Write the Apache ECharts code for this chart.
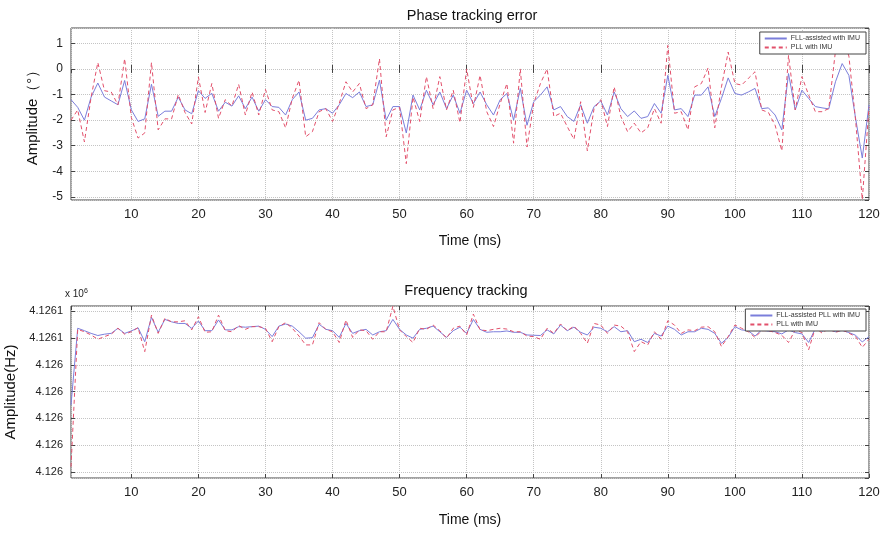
<!DOCTYPE html>
<html>
<head>
<meta charset="utf-8">
<title>Phase / frequency tracking</title>
<script src="https://cdn.jsdelivr.net/npm/echarts@6/dist/echarts.min.js"></script>
<style>
  html, body { margin: 0; padding: 0; background: #fff; }
  #chart { width: 884px; height: 533px; }
</style>
</head>
<body>
<div id="chart"></div>
<script>
// time axis (ms)
const timeMs = [1,2,3,4,5,6,7,8,9,10,11,12,13,14,15,16,17,18,19,20,21,22,23,24,25,26,27,28,29,30,
  31,32,33,34,35,36,37,38,39,40,41,42,43,44,45,46,47,48,49,50,51,52,53,54,55,56,57,58,59,60,
  61,62,63,64,65,66,67,68,69,70,71,72,73,74,75,76,77,78,79,80,81,82,83,84,85,86,87,88,89,90,
  91,92,93,94,95,96,97,98,99,100,101,102,103,104,105,106,107,108,109,110,111,112,113,114,115,116,117,118,119,120]

// phase tracking error (deg)
const phaseFll = [-1.2,-1.5,-2.0,-1.1,-0.55,-1.1,-1.25,-1.4,-0.45,-1.6,-2.05,-1.95,-0.6,-1.85,-1.65,-1.65,-1.1,-1.6,-1.75,-0.85,
  -1.15,-0.95,-1.65,-1.3,-1.45,-1.05,-1.55,-1.1,-1.65,-1.2,-1.47,-1.5,-1.8,-1.2,-0.9,-2.0,-1.93,-1.6,-1.55,-1.73,
  -1.4,-0.96,-1.12,-0.9,-1.47,-1.4,-0.44,-2.0,-1.47,-1.47,-2.5,-1.02,-1.6,-0.83,-1.4,-0.9,-1.55,-1.02,-1.73,-0.83,
  -1.35,-0.9,-1.4,-1.8,-1.2,-0.96,-2.0,-0.76,-2.2,-1.28,-1.02,-0.7,-1.6,-1.47,-1.86,-2.05,-1.4,-2.12,-1.47,-1.25,
  -1.8,-0.9,-1.55,-1.86,-1.64,-1.93,-1.86,-1.35,-1.73,-0.25,-1.6,-1.55,-1.86,-1.02,-1.02,-0.7,-1.86,-1.15,-0.35,-0.96,
  -1.02,-0.9,-0.76,-1.55,-1.52,-1.8,-2.38,-0.18,-1.6,-0.83,-1.15,-1.47,-1.52,-1.56,-0.5,0.21,-0.25,-1.93,-3.48,-1.4]
const phasePll = [-2.0,-1.6,-2.85,-1.1,0.25,-0.85,-0.9,-1.4,0.4,-1.9,-2.7,-2.5,0.25,-2.38,-1.95,-1.95,-1.0,-1.7,-2.15,-0.31,
  -1.7,-0.57,-1.93,-1.2,-1.45,-0.6,-1.8,-0.9,-1.8,-0.8,-1.6,-1.67,-2.3,-1.15,-0.44,-2.65,-2.45,-1.67,-1.55,-2.05,
  -1.35,-0.5,-0.9,-0.57,-1.55,-1.4,0.4,-2.65,-1.6,-1.5,-3.7,-1.1,-2.05,-0.3,-1.55,-0.3,-1.6,-0.83,-2.1,0.0,
  -1.5,-0.25,-1.67,-2.25,-1.35,-0.57,-2.9,0.0,-3.05,-1.35,-0.57,0.0,-1.86,-1.73,-2.25,-2.75,-1.28,-3.2,-1.55,-1.2,
  -2.25,-0.7,-1.86,-2.45,-2.12,-2.5,-2.3,-1.55,-2.12,0.92,-1.73,-1.67,-2.38,-0.7,-0.57,0.04,-2.3,-0.7,0.66,-0.57,
  -0.63,-0.37,-0.11,-1.6,-1.7,-2.2,-3.2,0.53,-1.6,-0.3,-1.02,-1.67,-1.67,-1.55,0.7,1.3,0.5,-2.0,-5.1,-1.5]

// frequency tracking (Hz)
const freqFll = [4126025,4126053.6,4126052.7,4126051.7,4126050.9,4126051.4,4126051.7,4126053.6,4126051.7,4126052.6,
  4126053.8,4126048.6,4126057.7,4126052.1,4126056.9,4126056.0,4126055.4,4126055.4,4126053.6,4126056.3,
  4126052.7,4126052.7,4126056.7,4126053.0,4126053.0,4126054.2,4126054.0,4126054.2,4126054.4,4126053.2,
  4126050.5,4126054.4,4126055.2,4126054.4,4126052.3,4126049.9,4126050.1,4126055.1,4126053.2,4126052.7,
  4126050.2,4126055.4,4126051.7,4126052.7,4126053.2,4126051.1,4126052.3,4126052.7,4126056.9,4126053.2,
  4126051.1,4126049.9,4126053.2,4126053.6,4126054.4,4126052.3,4126050.2,4126052.7,4126054.0,4126051.7,
  4126056.9,4126053.2,4126052.1,4126052.3,4126052.3,4126052.6,4126052.1,4126052.1,4126051.1,4126051.0,
  4126050.9,4126053.0,4126051.5,4126054.8,4126052.7,4126054.0,4126052.1,4126051.1,4126054.0,4126053.6,
  4126052.3,4126054.2,4126052.3,4126052.7,4126048.6,4126049.5,4126048.3,4126051.7,4126050.7,4126054.4,
  4126053.2,4126051.1,4126052.3,4126052.3,4126053.6,4126053.2,4126051.7,4126048.0,4126050.2,4126054.2,
  4126053.0,4126052.7,4126050.7,4126053.0,4126052.5,4126052.3,4126051.5,4126053.0,4126052.0,4126051.5,
  4126048.3,4126053.5,4126052.5,4126053.2,4126052.3,4126052.8,4126052.0,4126051.0,4126048.5,4126050.5]
const freqPll = [4126002,4126053.2,4126052.3,4126051.1,4126049.5,4126050.5,4126051.4,4126053.6,4126051.4,4126052.3,
  4126053.8,4126044.9,4126058.5,4126051.7,4126057.3,4126056.0,4126056.0,4126056.4,4126053.0,4126057.9,
  4126052.1,4126052.3,4126058.5,4126052.7,4126052.3,4126054.6,4126053.2,4126054.2,4126054.2,4126053.6,
  4126048.6,4126054.2,4126055.7,4126053.6,4126050.7,4126047.4,4126047.4,4126055.7,4126053.2,4126052.3,
  4126048.3,4126056.7,4126050.2,4126053.0,4126052.7,4126049.5,4126052.3,4126052.3,4126061.8,4126053.0,
  4126050.5,4126048.3,4126053.6,4126053.2,4126054.8,4126052.7,4126049.9,4126053.6,4126054.4,4126051.1,
  4126058.9,4126053.0,4126052.7,4126053.2,4126053.6,4126053.3,4126052.3,4126052.3,4126050.7,4126050.5,
  4126049.5,4126053.6,4126051.7,4126055.2,4126052.7,4126054.4,4126051.7,4126048.0,4126055.4,4126054.8,
  4126051.7,4126054.8,4126054.4,4126052.3,4126044.9,4126048.6,4126047.4,4126052.3,4126049.5,4126056.4,
  4126054.8,4126051.7,4126053.0,4126052.7,4126054.0,4126054.2,4126052.3,4126046.8,4126050.5,4126054.8,
  4126053.6,4126052.3,4126050.2,4126052.7,4126052.7,4126052.0,4126051.0,4126048.3,4126053.0,4126052.0,
  4126045.6,4126053.8,4126051.8,4126053.5,4126052.0,4126053.0,4126051.8,4126050.5,4126046.5,4126049.5]

// y tick labels of the frequency plot (MATLAB rounding, x 10^6)
const freqTicks = [4126000, 4126010, 4126020, 4126030, 4126040, 4126050, 4126060]
const freqTickLabels = ['4.126', '4.126', '4.126', '4.126', '4.126', '4.1261', '4.1261']

const FONT = 'Liberation Sans'
const BLUE = '#7b7edb'
const RED = '#e2506b'

const chart = echarts.init(document.getElementById('chart'))

function pairs(xs, ys) {
  return xs.map((x, i) => [x, ys[i]])
}

function timeAxis(gridIndex, name) {
  return {
    type: 'value',
    gridIndex: gridIndex,
    min: 1,
    max: 120,
    splitNumber: 12,
    name: name,
    nameLocation: 'middle',
    nameGap: 34,
    nameTextStyle: { fontFamily: FONT, fontSize: 14, color: '#111' },
    axisLine: { show: false },
    axisTick: { inside: true, length: 4, lineStyle: { color: '#444' } },
    axisLabel: { showMinLabel: false, fontFamily: FONT, fontSize: 13, color: '#222', margin: 8 },
    splitLine: { show: true, lineStyle: { type: 'dotted', color: '#c4c4c4' } }
  }
}

function mirrorAxis(base, pos) {
  return Object.assign({}, base, {
    position: pos,
    name: '',
    axisLabel: { show: false },
    splitLine: { show: false }
  })
}

const xTop = timeAxis(0, 'Time (ms)')
const xBottom = timeAxis(1, 'Time (ms)')
xBottom.nameGap = 35

const yTop = {
  type: 'value',
  gridIndex: 0,
  min: -5.12,
  max: 1.6,
  splitNumber: 7,
  name: 'Amplitude（°）',
  nameLocation: 'middle',
  nameGap: 31,
  nameTextStyle: { fontFamily: FONT, fontSize: 15, color: '#111' },
  axisLine: { show: false },
  axisTick: { inside: true, length: 4, lineStyle: { color: '#444' } },
  axisLabel: { showMinLabel: false, showMaxLabel: false, fontFamily: FONT, fontSize: 12, color: '#222', margin: 8 },
  splitLine: { show: true, lineStyle: { type: 'dotted', color: '#c4c4c4' } }
}

const yBottom = {
  type: 'value',
  gridIndex: 1,
  min: 4125997.8,
  max: 4126061.9,
  splitNumber: 6,
  name: 'Amplitude(Hz)',
  nameLocation: 'middle',
  nameGap: 40,
  nameTextStyle: { fontFamily: FONT, fontSize: 15, color: '#111' },
  axisLine: { show: false },
  axisTick: { inside: true, length: 4, lineStyle: { color: '#444' } },
  axisLabel: {
    showMinLabel: false,
    showMaxLabel: false,
    fontFamily: FONT,
    fontSize: 11,
    color: '#222',
    margin: 8,
    formatter: v => {
      const i = freqTicks.indexOf(Math.round(v))
      return i >= 0 ? freqTickLabels[i] : ''
    }
  },
  splitLine: { show: true, lineStyle: { type: 'dotted', color: '#c4c4c4' } }
}

const legendStyle = {
  orient: 'vertical',
  right: 18,
  backgroundColor: '#fff',
  borderColor: '#444',
  borderWidth: 1,
  borderRadius: 0,
  padding: [3, 6, 3, 4],
  itemGap: 2,
  itemWidth: 22,
  itemHeight: 8,
  selectedMode: false,
  itemStyle: { opacity: 0 },
  textStyle: { fontFamily: FONT, fontSize: 7, color: '#333', padding: [0, 0, 0, -1] }
}

const option = {
  animation: false,
  backgroundColor: '#fff',
  graphic: [
    { type: 'text', x: 472, y: 8, style: { text: 'Phase tracking error', textAlign: 'center', font: '14.5px "Liberation Sans"', fill: '#111' } },
    { type: 'text', x: 466, y: 283, style: { text: 'Frequency tracking', textAlign: 'center', font: '14.5px "Liberation Sans"', fill: '#111' } },
    {
      type: 'text', left: 65, top: 288,
      style: {
        text: 'x 10{s|6}',
        font: '10px "Liberation Sans"',
        fill: '#222',
        rich: { s: { fontSize: 7, fontFamily: FONT, verticalAlign: 'top', padding: [0, 0, 6, 0] } }
      }
    }
  ],
  grid: [
    { left: 71, right: 15, top: 28, height: 172, outerBoundsMode: 'none', show: true, borderColor: '#444', borderWidth: 1, backgroundColor: '#fff' },
    { left: 71, right: 15, top: 306, height: 172, outerBoundsMode: 'none', show: true, borderColor: '#444', borderWidth: 1, backgroundColor: '#fff' }
  ],
  xAxis: [xTop, xBottom, mirrorAxis(xTop, 'top'), mirrorAxis(xBottom, 'top')],
  yAxis: [yTop, yBottom, mirrorAxis(yTop, 'right'), mirrorAxis(yBottom, 'right')],
  legend: [
    Object.assign({}, legendStyle, { top: 32, data: ['FLL-assisted with IMU', 'PLL with IMU'] }),
    Object.assign({}, legendStyle, { top: 309, data: ['FLL-assisted PLL with IMU', 'PLL with IMU'] })
  ],
  series: [
    {
      name: 'FLL-assisted with IMU',
      type: 'line',
      xAxisIndex: 0,
      yAxisIndex: 0,
      symbol: 'none',
      data: pairs(timeMs, phaseFll),
      lineStyle: { color: BLUE, width: 1 },
      itemStyle: { color: BLUE }
    },
    {
      name: 'PLL with IMU',
      type: 'line',
      xAxisIndex: 0,
      yAxisIndex: 0,
      symbol: 'none',
      data: pairs(timeMs, phasePll),
      lineStyle: { color: RED, width: 1, type: [4, 3] },
      itemStyle: { color: RED }
    },
    {
      name: 'FLL-assisted PLL with IMU',
      type: 'line',
      xAxisIndex: 1,
      yAxisIndex: 1,
      symbol: 'none',
      data: pairs(timeMs, freqFll),
      lineStyle: { color: BLUE, width: 1 },
      itemStyle: { color: BLUE }
    },
    {
      name: 'PLL with IMU',
      type: 'line',
      xAxisIndex: 1,
      yAxisIndex: 1,
      symbol: 'none',
      data: pairs(timeMs, freqPll),
      lineStyle: { color: RED, width: 1, type: [4, 3] },
      itemStyle: { color: RED }
    }
  ]
}

chart.setOption(option)
</script>
</body>
</html>
